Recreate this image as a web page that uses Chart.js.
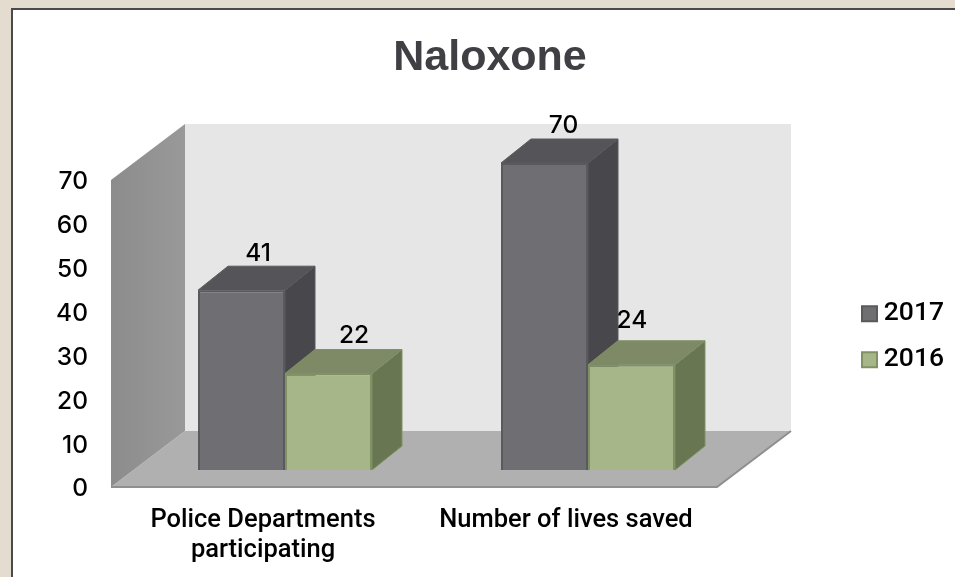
<!DOCTYPE html>
<html><head><meta charset="utf-8">
<style>html,body{margin:0;padding:0;background:#e3dccf}#wrap{width:955px;height:577px}canvas{display:block}</style>
<script src="https://cdn.jsdelivr.net/npm/chart.js@4"></script></head>
<body><div id="wrap"><canvas id="c" width="955" height="577"></canvas></div>
<script>
const chartTitle = 'Naloxone';
const categories = [['Police Departments', 'participating'], ['Number of lives saved']];
const yearA = '2017';
const yearB = '2016';
const valuesA = [41, 70];
const valuesB = [22, 24];
const yTicks = [0, 10, 20, 30, 40, 50, 60, 70];

const DIGITS = 'Inter';
const DIGIT_SIZE = 24.5;
const WORDS = 'Roboto';
const wallDepth = { x: 74, y: 56 };
const barDepth = { x: 30, y: 24 };
const faces = [
  { top: '#555458', side: '#48474c', edge: '#5a595e' },
  { top: '#7e8a66', side: '#687652', edge: '#7f9165' }
];
const labelShift = [[[1.5, -13], [4, -13]], [[10.5, -14], [-14.5, -20]]];
const PX = 307 / 70;

function poly(ctx, pts, fill, stroke) {
  ctx.beginPath();
  pts.forEach((p, i) => i ? ctx.lineTo(p[0], p[1]) : ctx.moveTo(p[0], p[1]));
  ctx.closePath();
  ctx.fillStyle = fill;
  ctx.fill();
  if (stroke) { ctx.strokeStyle = stroke; ctx.lineWidth = 1; ctx.stroke(); }
}

const scene = {
  id: 'scene',
  afterLayout(chart) {
    const t = chart.titleBlock;
    t.left = 25; t.right = 955;
    const l = chart.legend;
    l.left = 842.5; l.right = 944; l.top = 281; l.bottom = 400;
  },
  beforeDraw(chart) {
    const ctx = chart.ctx;
    ctx.fillStyle = '#e3dccf'; ctx.fillRect(0, 0, 955, 577);
    ctx.fillStyle = '#4a4a4c'; ctx.fillRect(11, 8, 944, 569);
    ctx.fillStyle = '#ffffff'; ctx.fillRect(13, 10, 942, 567);
  },
  beforeDatasetsDraw(chart) {
    const ctx = chart.ctx, a = chart.chartArea, y0 = a.bottom;
    const L = a.left, R = a.right, T = a.top, dx = wallDepth.x, dy = wallDepth.y;
    poly(ctx, [[L + dx, T], [R, T], [R, y0 - dy], [L + dx, y0 - dy]], '#e6e6e6');
    poly(ctx, [[L, y0], [R - dx, y0], [R, y0 - dy], [L + dx, y0 - dy]], '#b0b0b0');
    ctx.strokeStyle = '#8f8f8f'; ctx.lineWidth = 2;
    ctx.beginPath(); ctx.moveTo(L, y0); ctx.lineTo(R - dx, y0); ctx.lineTo(R, y0 - dy); ctx.stroke();
    const g = ctx.createLinearGradient(L, 0, L + dx, 0);
    g.addColorStop(0, '#8c8c8c'); g.addColorStop(1, '#999999');
    poly(ctx, [[L, T + dy], [L + dx, T], [L + dx, y0 - dy], [L, y0]], g);
    chart.data.datasets.forEach((ds, d) => {
      chart.getDatasetMeta(d).data.forEach(bar => {
        const { x, y, base, width } = bar.getProps(['x', 'y', 'base', 'width'], true);
        const l = x - width / 2, r = x + width / 2, bx = barDepth.x, by = barDepth.y, f = faces[d];
        poly(ctx, [[r, y], [r + bx, y - by], [r + bx, base - by], [r, base]], f.side, f.edge);
        poly(ctx, [[l, y], [l + bx, y - by], [r + bx, y - by], [r, y]], f.top, f.edge);
      });
    });
  },
  afterDatasetsDraw(chart) {
    const ctx = chart.ctx;
    ctx.save();
    ctx.font = '500 ' + DIGIT_SIZE + 'px "' + DIGITS + '"'; ctx.fillStyle = '#000'; ctx.textAlign = 'center'; ctx.textBaseline = 'middle';
    chart.data.datasets.forEach((ds, d) => {
      chart.getDatasetMeta(d).data.forEach((bar, i) => {
        const { x, y } = bar.getProps(['x', 'y'], true);
        ctx.fillText(String(ds.data[i].y), x + barDepth.x / 2 + labelShift[d][i][0], y - barDepth.y + labelShift[d][i][1]);
      });
    });
    ctx.restore();
  }
};

const toPoints = vals => vals.map((v, i) => ({ x: i, y: v }));
const categoryTicks = s => { s.ticks = categories.map((_, i) => ({ value: i })); };

new Chart(document.getElementById('c'), {
  type: 'bar',
  data: {
    datasets: [
      { label: yearA, data: toPoints(valuesA), backgroundColor: '#6f6e73', borderColor: '#5a595e', borderWidth: 2, xAxisID: 'xBars', yAxisID: 'yBars', categoryPercentage: 174 / 303, barPercentage: 1 },
      { label: yearB, data: toPoints(valuesB), backgroundColor: '#a7b689', borderColor: '#7f9165', borderWidth: 2, xAxisID: 'xBars', yAxisID: 'yBars', categoryPercentage: 174 / 303, barPercentage: 1 }
    ]
  },
  options: {
    responsive: false, animation: false,
    layout: { padding: { left: 0, right: 164, top: 0, bottom: 0 } },
    plugins: {
      tooltip: { enabled: false },
      title: { display: true, text: chartTitle, color: '#404044', align: 'center',
        font: { family: 'Liberation Sans', size: 43, weight: 'bold', lineHeight: 50 / 43 },
        padding: { top: 33, bottom: 41 } },
      legend: { position: 'chartArea', align: 'start',
        labels: { boxWidth: 15, boxHeight: 15, padding: 19.5, color: '#000', textAlign: 'right',
          font: { family: WORDS, size: 26.5, weight: '500' } } }
    },
    scales: {
      x: { type: 'linear', position: 'bottom', min: -152 / 303, max: 528 / 303, offset: false,
        grid: { display: false, drawTicks: false }, border: { display: false },
        afterBuildTicks: categoryTicks,
        afterFit: s => { s.height = 90; },
        ticks: { autoSkip: false, maxRotation: 0, padding: 19, color: '#000',
          font: { family: WORDS, size: 25.5, weight: '500', lineHeight: 1.16 },
          callback: v => categories[v] } },
      y: { type: 'linear', position: 'left', min: 2 / PX, max: 365 / PX,
        grid: { display: false, drawTicks: false }, border: { display: false },
        afterBuildTicks: s => { s.ticks = yTicks.map(v => ({ value: v })); },
        afterFit: s => { s.width = 111; },
        ticks: { padding: 23, color: '#000', font: { family: DIGITS, size: DIGIT_SIZE, weight: '500' } } },
      xBars: { type: 'linear', display: false, position: 'bottom', min: -174 / 303, max: 506 / 303, offset: false, afterBuildTicks: categoryTicks },
      yBars: { type: 'linear', display: false, position: 'left', min: -17 / PX, max: 346 / PX }
    }
  },
  plugins: [scene]
});
</script></body></html>
